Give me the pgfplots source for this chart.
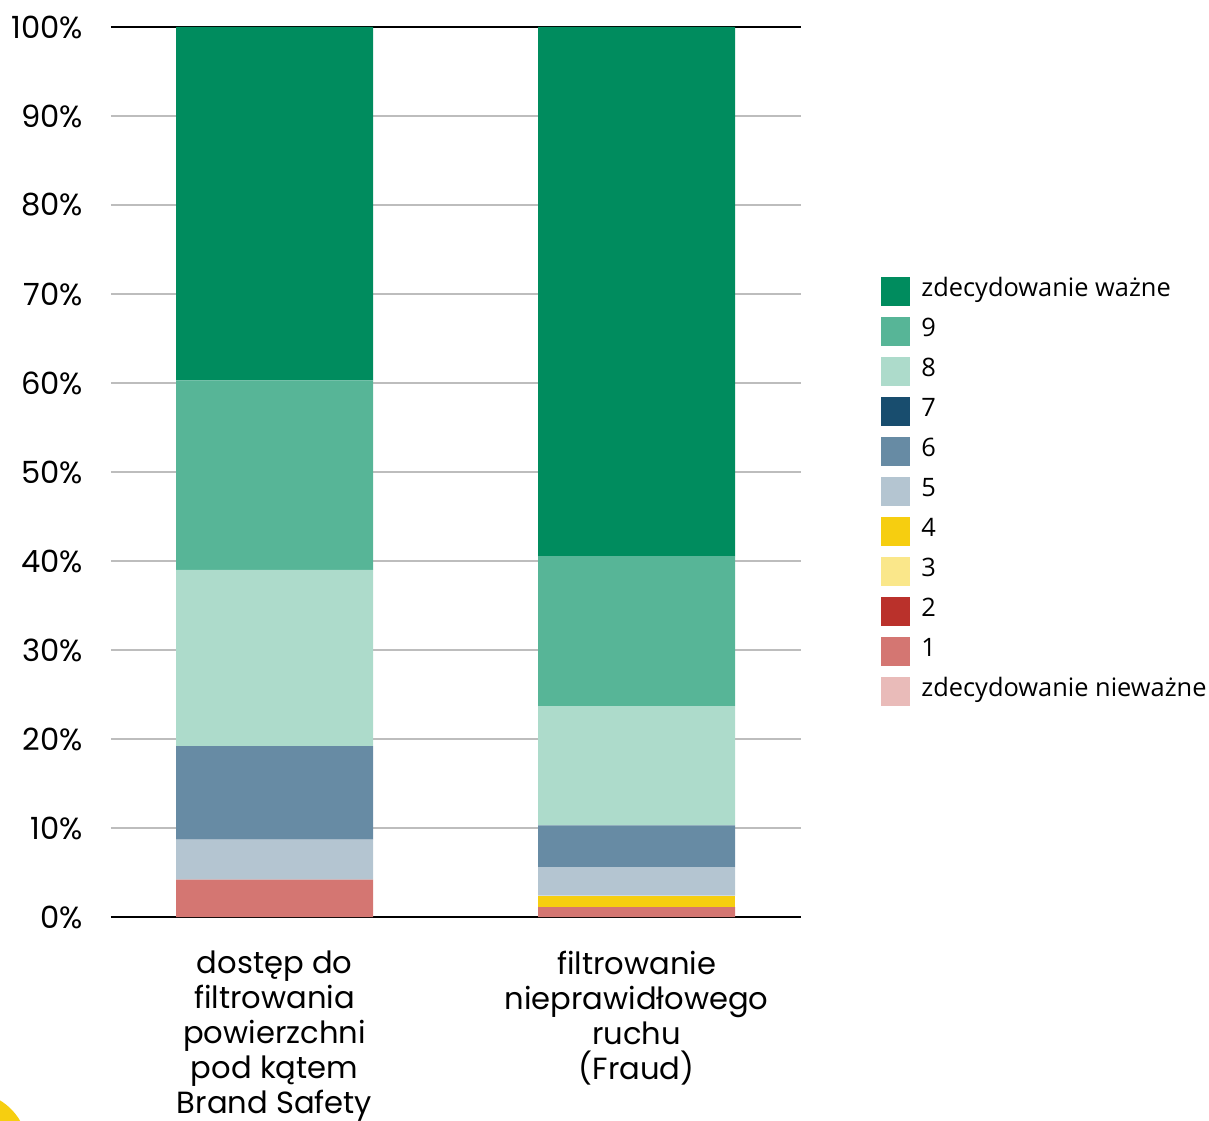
\documentclass[border=0pt]{standalone}
\usepackage{pgfplots}
\pgfplotsset{compat=1.18}
\usepackage{fontspec}
\setmainfont{Poppins}
\newfontfamily\legfont{Open Sans}
\definecolor{c10}{HTML}{008C5E}
\definecolor{c9}{HTML}{57B597}
\definecolor{c8}{HTML}{ADDBCB}
\definecolor{c7}{HTML}{184D6E}
\definecolor{c6}{HTML}{678BA4}
\definecolor{c5}{HTML}{B4C5D1}
\definecolor{c4}{HTML}{F6CE10}
\definecolor{c3}{HTML}{FAE78A}
\definecolor{c2}{HTML}{BA312B}
\definecolor{c1}{HTML}{D47672}
\definecolor{c0}{HTML}{E9BBB9}
\definecolor{gridc}{HTML}{BDBDBD}
\begin{document}
\begin{tikzpicture}
\useasboundingbox (-55.5pt,-101.5pt) rectangle (549pt,458.5pt);
\fill[c4] (-70.5pt,-116.5pt) circle (29pt);
\begin{axis}[
  at={(0,0)}, anchor=south west,
  scale only axis,
  width=345pt, height=445pt,
  ybar stacked,
  bar width=98.5pt,
  xmin=-0.4517, xmax=1.454,
  ymin=0, ymax=100,
  xtick={0,1},
  xticklabels={{dostęp do\\filtrowania\\powierzchni\\pod kątem\\Brand Safety},{filtrowanie\\nieprawidłowego\\ruchu\\(Fraud)}},
  xticklabel style={align=center, font=\fontsize{15.3}{17.5}\selectfont, yshift=-13.5pt},
  ytick={0,10,...,100},
  yticklabel={\pgfmathprintnumber{\tick}\%},
  yticklabel style={font=\fontsize{15.3}{17}\selectfont, xshift=-10.5pt},
  /pgf/number format/assume math mode=true,
  major tick length=0pt,
  axis line style={draw=none},
  ymajorgrids,
  grid style={gridc, line width=0.75pt},
  reverse legend,
  legend cell align=left,
  legend style={at={(axis description cs:1.116,0.4785)}, anchor=west, draw=none,
    inner sep=0pt, row sep=5.5pt,
    font=\legfont\fontsize{12.7}{14}\selectfont,
    nodes={inner sep=0pt, text height=10pt, text depth=4.5pt}},
  legend image code/.code={\fill[#1,draw=none] (0pt,-7.25pt) rectangle (14.5pt,7.25pt);},
  /tikz/every odd column/.style={column sep=5.5pt},
]
\addplot[fill=c0, draw=none] coordinates {(0,0) (1,0)};
\addplot[fill=c1, draw=none] coordinates {(0,4.2) (1,1.1)};
\addplot[fill=c2, draw=none] coordinates {(0,0) (1,0)};
\addplot[fill=c3, draw=none] coordinates {(0,0) (1,0)};
\addplot[fill=c4, draw=none] coordinates {(0,0) (1,1.3)};
\addplot[fill=c5, draw=none] coordinates {(0,4.5) (1,3.2)};
\addplot[fill=c6, draw=none] coordinates {(0,10.5) (1,4.7)};
\addplot[fill=c7, draw=none] coordinates {(0,0) (1,0)};
\addplot[fill=c8, draw=none] coordinates {(0,19.8) (1,13.4)};
\addplot[fill=c9, draw=none] coordinates {(0,21.3) (1,16.8)};
\addplot[fill=c10, draw=none] coordinates {(0,39.7) (1,59.5)};
\legend{zdecydowanie nieważne,1,2,3,4,5,6,7,8,9,zdecydowanie ważne}
\draw[black, line width=1.2pt] (rel axis cs:0,0) -- (rel axis cs:1,0);
\draw[black, line width=1.2pt] (rel axis cs:0,1) -- (rel axis cs:1,1);
\end{axis}
\end{tikzpicture}
\end{document}
